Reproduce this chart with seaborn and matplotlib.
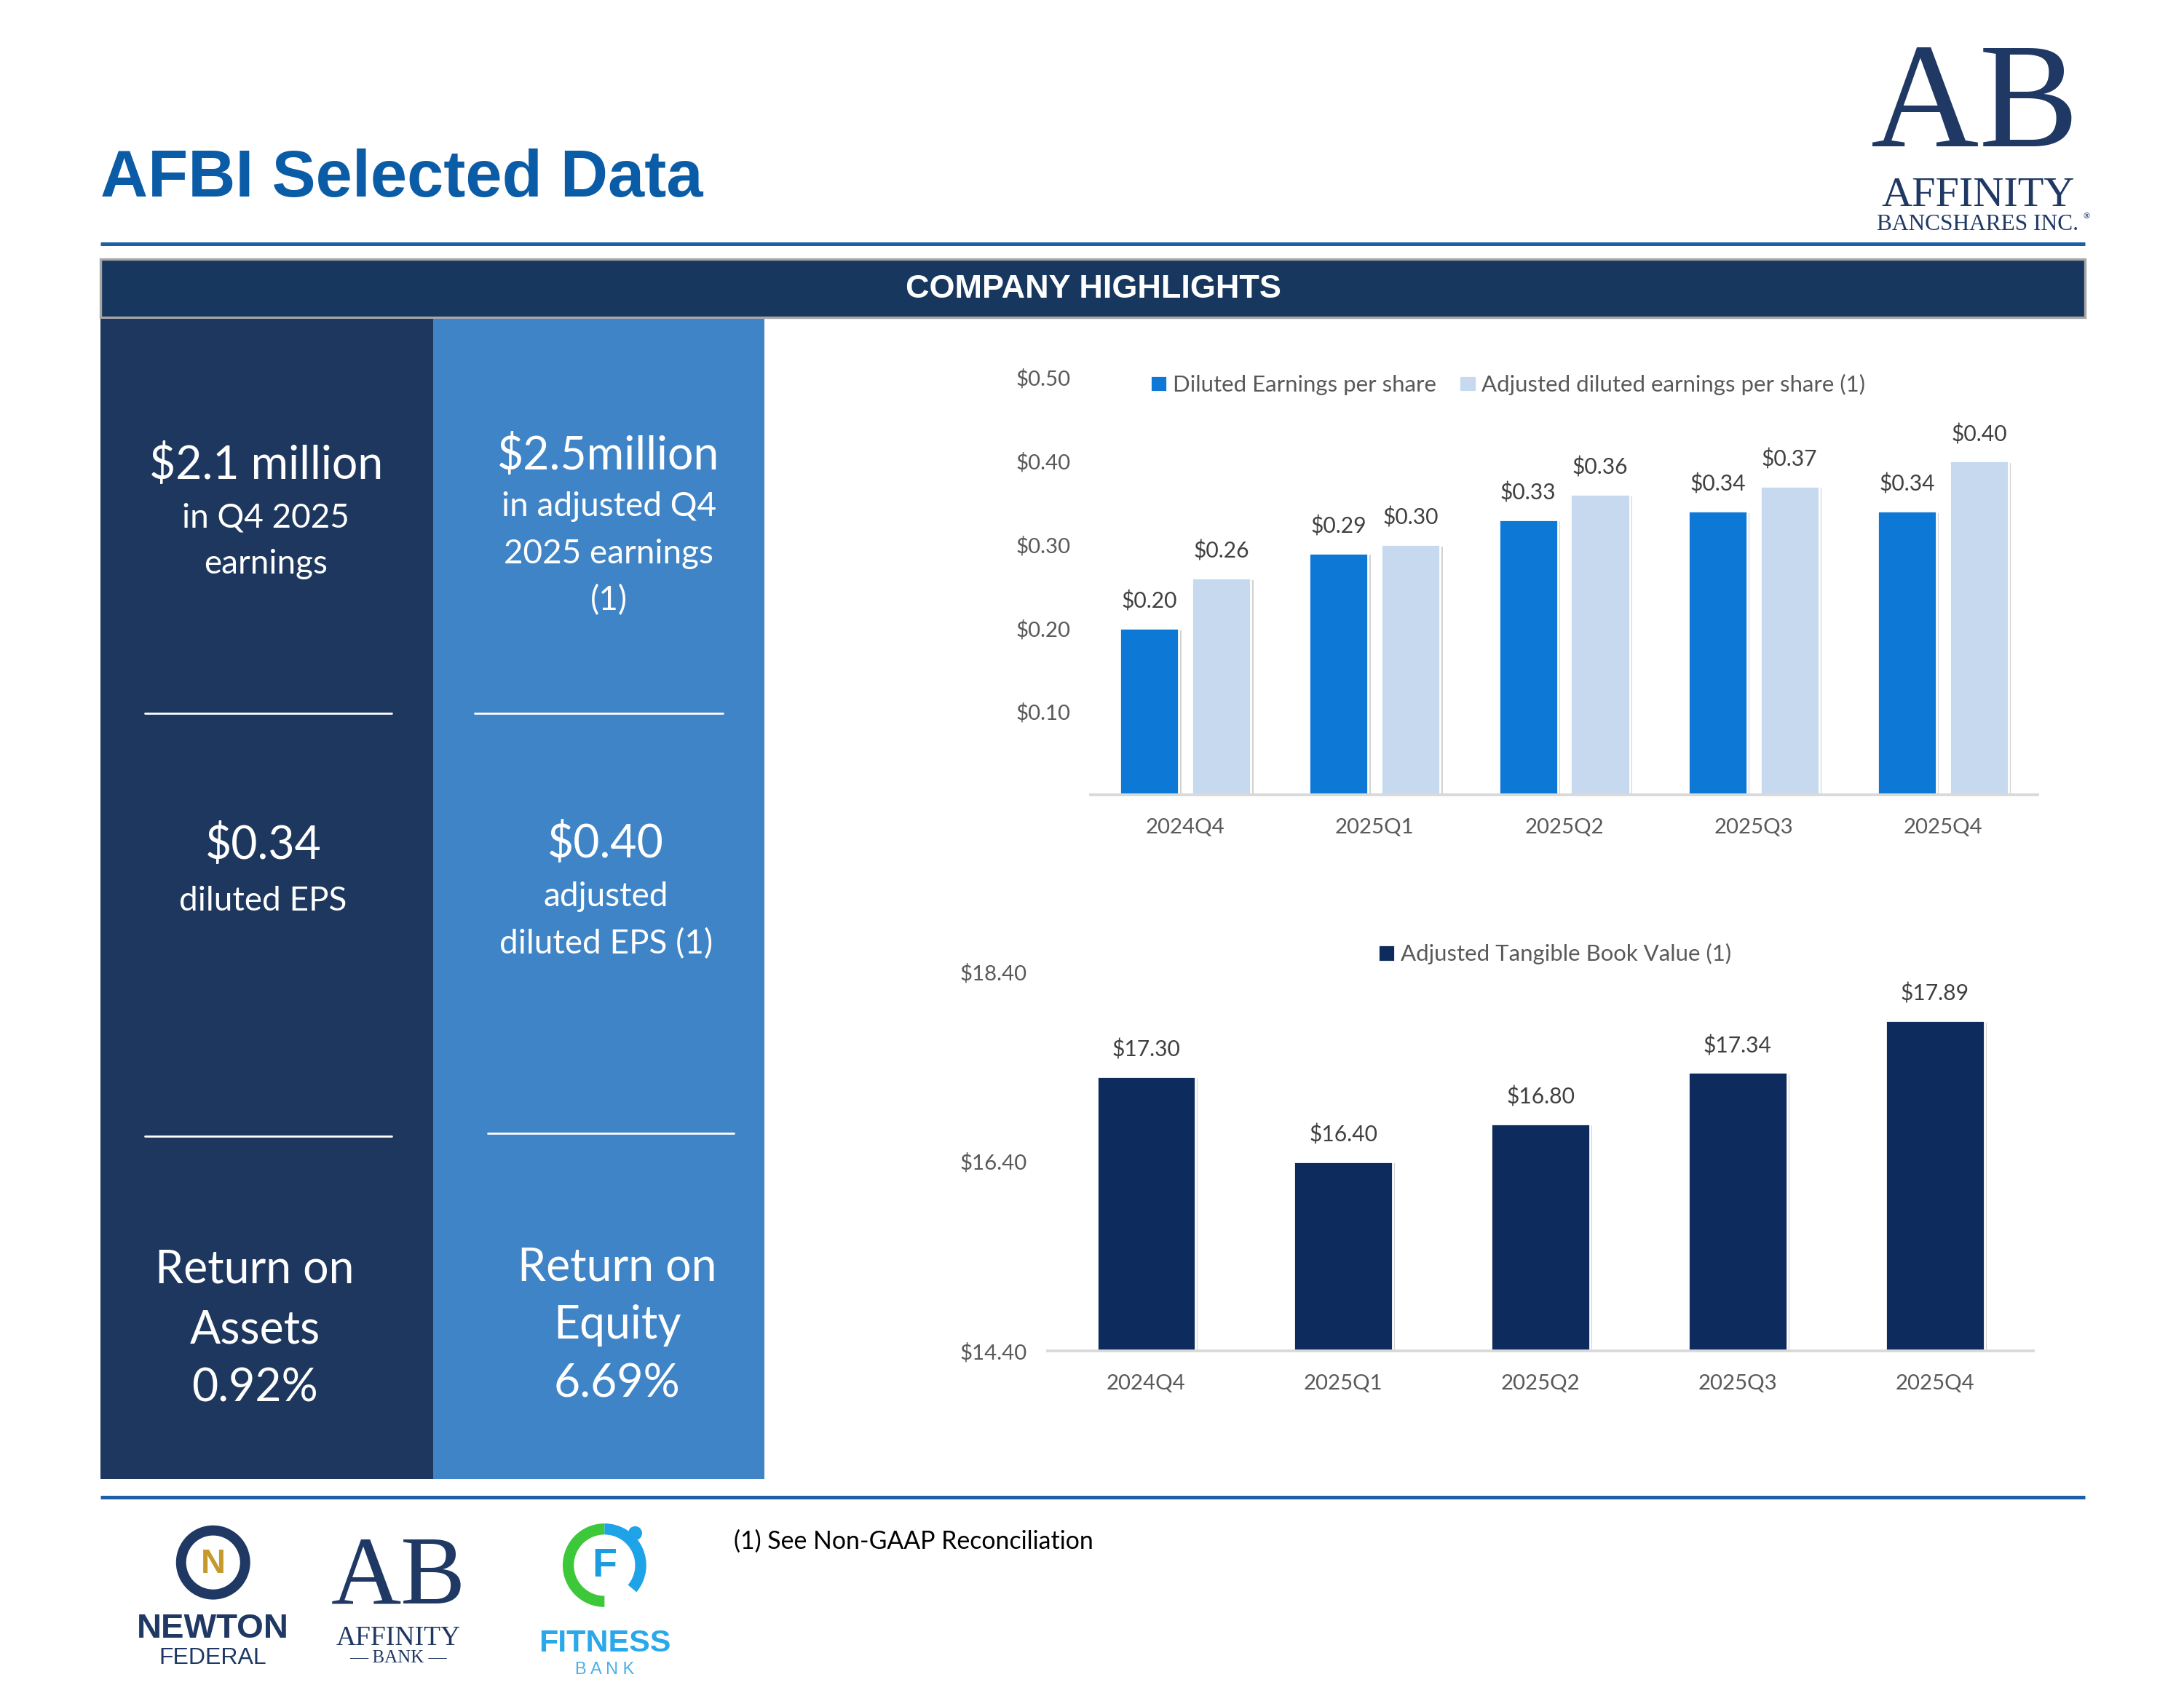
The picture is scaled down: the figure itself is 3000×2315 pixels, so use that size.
import numpy as np
import pandas as pd
import seaborn as sns
import matplotlib.pyplot as plt
import matplotlib.patheffects as pe
from matplotlib.patches import Rectangle, Circle, Wedge

# chart data
quarters = ["2024Q4", "2025Q1", "2025Q2", "2025Q3", "2025Q4"]
diluted_eps = [0.20, 0.29, 0.33, 0.34, 0.34]
adjusted_eps = [0.26, 0.30, 0.36, 0.37, 0.40]
atbv = [17.30, 16.40, 16.80, 17.34, 17.89]
eps_ticks = [0.10, 0.20, 0.30, 0.40, 0.50]
atbv_ticks = [14.40, 16.40, 18.40]
eps_series = ["Diluted Earnings per share", "Adjusted diluted earnings per share (1)"]
atbv_series = "Adjusted Tangible Book Value (1)"

# highlight panel text
left_top = ["$2.1 million", "in Q4 2025", "earnings"]
right_top = ["$2.5million", "in adjusted Q4", "2025 earnings", "(1)"]
left_mid = ["$0.34", "diluted EPS"]
right_mid = ["$0.40", "adjusted", "diluted EPS (1)"]
left_bot = ["Return on", "Assets", "0.92%"]
right_bot = ["Return on", "Equity", "6.69%"]

NAVY = "#1E375E"
MIDBLUE = "#3F84C6"
TITLE_BLUE = "#0B5CA6"
LOGO_NAVY = "#1F3864"
EPS_BLUE = "#0E78D6"
EPS_LIGHT = "#C6D9EF"
ATBV_NAVY = "#0D2B5C"
GREY_TXT = "#595959"

sns.set_style("white")
plt.rcParams['font.family'] = ['Lato', 'DejaVu Sans']

W, H = 1568, 1210
fig = plt.figure(figsize=(15, 11.575), dpi=200)
bg = fig.add_axes([0, 0, 1, 1])
bg.set_xlim(0, W)
bg.set_ylim(H, 0)
bg.axis("off")

# title and rules
bg.text(72, 129, "AFBI Selected Data", fontsize=32.5, fontweight="bold", color=TITLE_BLUE,
        family="Liberation Sans", va="center", ha="left")
bg.plot([72, 1497], [175, 175], color="#1C5FA6", lw=1.8, solid_capstyle="butt")
bg.plot([72, 1497], [1075, 1075], color="#1C5FA6", lw=1.8, solid_capstyle="butt")

# header bar
bg.add_patch(Rectangle((72, 186), 1425, 42, fc="#17375E", ec="#A6A6A6", lw=1.2))
bg.text(785, 208, "COMPANY HIGHLIGHTS", fontsize=16.2, fontweight="bold", color="white",
        family="Liberation Sans", ha="center", va="center")

# highlight panels
bg.add_patch(Rectangle((72, 229), 239, 833, fc=NAVY, ec="none"))
bg.add_patch(Rectangle((311, 229), 238, 833, fc=MIDBLUE, ec="none"))

BIG, SMALL = 22.5, 16.5


def stack(x, ys, lines, sizes):
    for y, s, fs in zip(ys, lines, sizes):
        bg.text(x, y, s, fontsize=fs, color="white", ha="center", va="center")


stack(191, [334, 372, 405], left_top, [BIG, SMALL, SMALL])
stack(437, [327, 364, 398, 431], right_top, [BIG, SMALL, SMALL, SMALL])
stack(189, [607, 647], left_mid, [BIG, SMALL])
stack(435, [606, 644, 678], right_mid, [BIG, SMALL, SMALL])
stack(183, [912, 955, 997], left_bot, [BIG, BIG, BIG])
stack(443, [910, 952, 994], right_bot, [BIG, BIG, BIG])

for x0, x1, y in [(104, 281, 512), (341, 519, 512), (104, 281, 816), (350, 527, 814)]:
    bg.plot([x0, x1], [y, y], color="white", lw=1.0)

# footnote
bg.text(527, 1107, "(1) See Non-GAAP Reconciliation", fontsize=12.2, color="black",
        ha="left", va="center")

# top-right logo
bg.text(1418, 105, "AB", fontsize=74, family="Liberation Serif", color=LOGO_NAVY, ha="center", va="baseline")
bg.text(1420, 148, "AFFINITY", fontsize=21, family="Liberation Serif", color=LOGO_NAVY, ha="center", va="baseline")
bg.text(1420, 165, "BANCSHARES INC.", fontsize=11.3, family="Liberation Serif", color=LOGO_NAVY, ha="center", va="baseline")
bg.text(1495, 157, "®", fontsize=4, family="DejaVu Sans", color=LOGO_NAVY, ha="left", va="baseline")

# bottom logos: Newton Federal
bg.add_patch(Circle((153, 1122), 23, fc="none", ec=LOGO_NAVY, lw=5))
bg.text(153, 1123, "N", fontsize=17, fontweight="bold", family="Liberation Sans", color="#C49A2C",
        ha="center", va="center")
bg.text(153, 1176, "NEWTON", fontsize=17, fontweight="bold", family="Liberation Sans", color=LOGO_NAVY,
        ha="center", va="baseline")
bg.text(153, 1195, "FEDERAL", fontsize=11.5, family="Liberation Sans", color=LOGO_NAVY,
        ha="center", va="baseline")

# Affinity Bank
bg.text(286, 1151, "AB", fontsize=48, family="Liberation Serif", color=LOGO_NAVY, ha="center", va="baseline")
bg.text(286, 1181, "AFFINITY", fontsize=13.5, family="Liberation Serif", color=LOGO_NAVY, ha="center", va="baseline")
bg.text(286, 1194, "— BANK —", fontsize=9, family="Liberation Serif", color=LOGO_NAVY, ha="center", va="baseline")

# Fitness Bank
bg.add_patch(Wedge((434, 1124), 30, 90, 270, width=8, fc="#3DC83A", ec="none"))
bg.add_patch(Wedge((434, 1124), 30, 270, 40, width=8, fc="#1FA3E8", ec="none"))
bg.add_patch(Circle((456, 1101), 5, fc="#1FA3E8", ec="none"))
bg.text(434, 1125, "F", fontsize=20, fontweight="bold", family="Liberation Sans", color="#1B9BE0",
        ha="center", va="center")
bg.text(434, 1186, "FITNESS", fontsize=15.5, fontweight="bold", family="Liberation Sans", color="#2AA8EA",
        ha="center", va="baseline")
bg.text(434, 1202, "B A N K", fontsize=8.5, family="Liberation Sans", color="#4BB0E6",
        ha="center", va="baseline")

shadow = [pe.SimplePatchShadow(offset=(1.2, -1.0), shadow_rgbFace="#7F7F7F", alpha=0.35), pe.Normal()]

# EPS chart
eps_df = pd.DataFrame({
    "quarter": quarters * 2,
    "series": [eps_series[0]] * len(quarters) + [eps_series[1]] * len(quarters),
    "value": diluted_eps + adjusted_eps,
})
ax1 = fig.add_axes([783 / W, 1 - 571 / H, 680 / W, 300 / H])
ax1.set_facecolor("none")
sns.barplot(data=eps_df, x="quarter", y="value", hue="series", palette=[EPS_BLUE, EPS_LIGHT],
            width=0.76, gap=0.18, saturation=1, ax=ax1)
for c in ax1.containers:
    for bar in c:
        bar.set_path_effects(shadow)
    ax1.bar_label(c, fmt="${:.2f}", padding=8, fontsize=10.8, color="#404040")
ax1.set_ylim(0, 0.5)
ax1.set_xlim(-0.5, 4.5)
ax1.set_yticks(eps_ticks)
ax1.set_yticklabels([f"${t:.2f}" for t in eps_ticks])
ax1.set_xlabel("")
ax1.set_ylabel("")
ax1.tick_params(axis="both", length=0, labelsize=10.6, labelcolor=GREY_TXT)
ax1.tick_params(axis="y", pad=10)
ax1.tick_params(axis="x", pad=11.5)
for s in ["top", "right", "left"]:
    ax1.spines[s].set_visible(False)
ax1.spines["bottom"].set_color("#D9D9D9")
ax1.spines["bottom"].set_linewidth(1.4)
ax1.legend(loc="center left", bbox_to_anchor=(0.063, 0.983), ncol=2, frameon=False,
           handlelength=0.75, handleheight=0.75, handletextpad=0.25, columnspacing=1.0,
           borderpad=0, borderaxespad=0, fontsize=11.2, labelcolor=GREY_TXT)

# ATBV chart
atbv_df = pd.DataFrame({"quarter": quarters, "series": [atbv_series] * len(quarters), "value": atbv})
ax2 = fig.add_axes([752 / W, 1 - 970 / H, 708 / W, 272 / H])
ax2.set_facecolor("none")
sns.barplot(data=atbv_df, x="quarter", y="value", hue="series", palette=[ATBV_NAVY],
            width=0.5, saturation=1, ax=ax2)
for c in ax2.containers:
    for bar in c:
        bar.set_path_effects(shadow)
    ax2.bar_label(c, fmt="${:.2f}", padding=8, fontsize=10.8, color="#404040")
ax2.set_ylim(14.4, 18.4)
ax2.set_xlim(-0.5, 4.5)
ax2.set_yticks(atbv_ticks)
ax2.set_yticklabels([f"${t:.2f}" for t in atbv_ticks])
ax2.set_xticks(np.arange(-0.5, 5, 1.0), minor=True)
ax2.set_xlabel("")
ax2.set_ylabel("")
ax2.tick_params(axis="both", which="major", length=0, labelsize=10.6, labelcolor=GREY_TXT)
ax2.tick_params(axis="x", which="minor", length=4.5, width=1.2, color="#D0D0D0", direction="out")
ax2.tick_params(axis="y", pad=10)
ax2.tick_params(axis="x", which="major", pad=11.5)
for s in ["top", "right", "left"]:
    ax2.spines[s].set_visible(False)
ax2.spines["bottom"].set_color("#D9D9D9")
ax2.spines["bottom"].set_linewidth(1.4)
ax2.legend(loc="center left", bbox_to_anchor=(0.335, 1.048), frameon=False,
           handlelength=0.75, handleheight=0.75, handletextpad=0.25,
           borderpad=0, borderaxespad=0, fontsize=11.2, labelcolor=GREY_TXT)

fig.savefig("out.png", dpi=200, facecolor="white")
